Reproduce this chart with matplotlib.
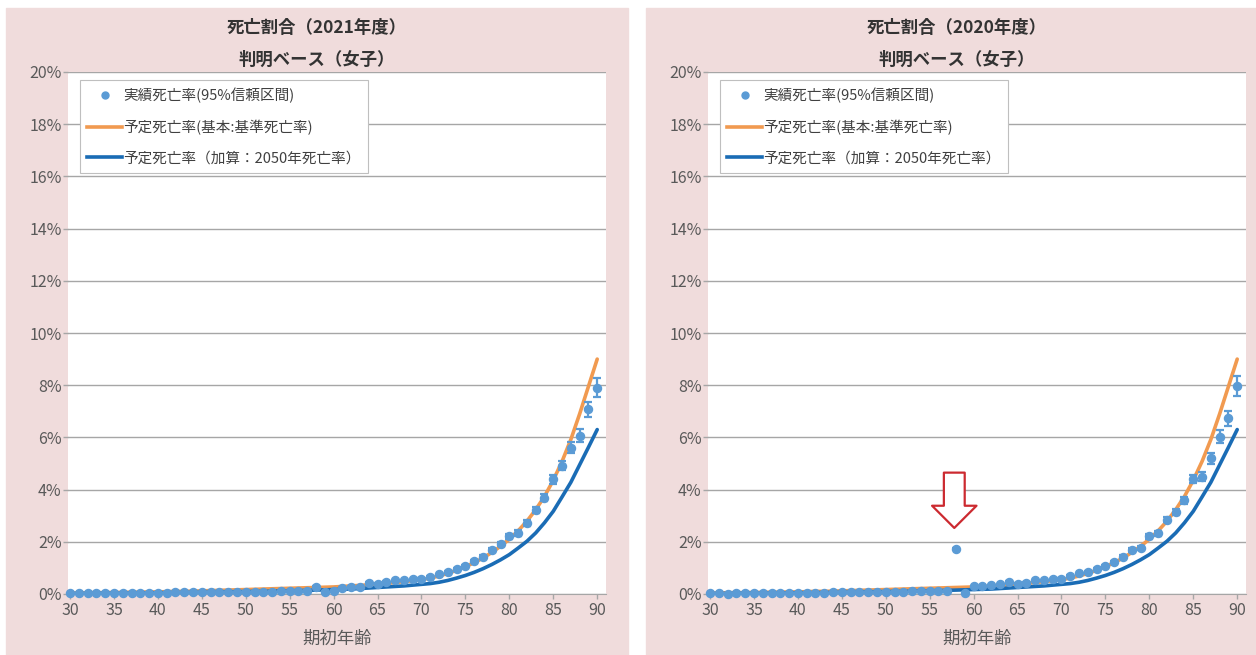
import matplotlib
matplotlib.use('Agg')
import matplotlib.pyplot as plt
from matplotlib.patches import Rectangle
from matplotlib.lines import Line2D


# ------------------- データ -------------------
ages = list(range(30, 91))
xticks = [30, 35, 40, 45, 50, 55, 60, 65, 70, 75, 80, 85, 90]
yticks = [0, 2, 4, 6, 8, 10, 12, 14, 16, 18, 20]

# 実績死亡率 (%) 2021年度
rate_2021 = [0.02, 0.02, 0.02, 0.03, 0.03, 0.03, 0.04, 0.04, 0.04, 0.05,
             0.05, 0.05, 0.06, 0.06, 0.06, 0.07, 0.07, 0.07, 0.08, 0.08,
             0.08, 0.09, 0.09, 0.09, 0.10, 0.10, 0.10, 0.12, 0.28, 0.09,
             0.13, 0.24, 0.27, 0.28, 0.44, 0.40, 0.46, 0.52, 0.53, 0.56,
             0.59, 0.66, 0.75, 0.86, 0.94, 1.09, 1.26, 1.42, 1.70, 1.90,
             2.21, 2.34, 2.73, 3.21, 3.69, 4.39, 4.92, 5.60, 6.07, 7.07,
             7.90]
err_2021 = [0.01] * 20 + [0.02] * 20 + \
           [0.03, 0.03, 0.03, 0.03, 0.04, 0.04, 0.05, 0.06, 0.07, 0.08,
            0.09, 0.10, 0.11, 0.12, 0.14, 0.16, 0.18, 0.21, 0.25, 0.29,
            0.36]

# 実績死亡率 (%) 2020年度
rate_2020 = [0.02, 0.02, 0.01, 0.02, 0.03, 0.02, 0.03, 0.03, 0.04, 0.04,
             0.04, 0.05, 0.05, 0.05, 0.06, 0.06, 0.07, 0.07, 0.07, 0.08,
             0.08, 0.09, 0.09, 0.10, 0.10, 0.10, 0.11, 0.12, 1.74, 0.05,
             0.30, 0.29, 0.33, 0.37, 0.46, 0.40, 0.43, 0.53, 0.53, 0.56,
             0.59, 0.68, 0.79, 0.85, 0.97, 1.07, 1.23, 1.43, 1.68, 1.77,
             2.21, 2.32, 2.85, 3.13, 3.59, 4.41, 4.50, 5.20, 6.03, 6.73,
             7.96]
err_2020 = [0.01] * 20 + [0.02] * 20 + \
           [0.03, 0.03, 0.03, 0.03, 0.04, 0.04, 0.05, 0.06, 0.07, 0.08,
            0.09, 0.10, 0.11, 0.12, 0.14, 0.16, 0.18, 0.21, 0.25, 0.30,
            0.38]

# 予定死亡率(基本:基準死亡率) (%)
base_rate = [0.04, 0.04, 0.05, 0.05, 0.05, 0.06, 0.06, 0.07, 0.07, 0.08,
             0.08, 0.09, 0.10, 0.10, 0.11, 0.12, 0.13, 0.14, 0.15, 0.16,
             0.17, 0.18, 0.19, 0.20, 0.21, 0.22, 0.23, 0.24, 0.25, 0.26,
             0.27, 0.29, 0.31, 0.33, 0.35, 0.38, 0.41, 0.44, 0.47, 0.51,
             0.55, 0.61, 0.69, 0.79, 0.91, 1.05, 1.20, 1.38, 1.59, 1.83,
             2.10, 2.42, 2.79, 3.23, 3.74, 4.36, 5.08, 5.92, 6.90, 7.95,
             9.00]

# 予定死亡率（加算：2050年死亡率） (%)
rate_2050 = [0.02, 0.02, 0.02, 0.03, 0.03, 0.03, 0.03, 0.04, 0.04, 0.04,
             0.05, 0.05, 0.05, 0.06, 0.06, 0.07, 0.07, 0.08, 0.08, 0.09,
             0.09, 0.10, 0.10, 0.11, 0.12, 0.12, 0.13, 0.14, 0.15, 0.16,
             0.17, 0.18, 0.19, 0.21, 0.23, 0.25, 0.27, 0.29, 0.31, 0.34,
             0.37, 0.40, 0.45, 0.52, 0.61, 0.71, 0.83, 0.97, 1.13, 1.31,
             1.51, 1.76, 2.02, 2.34, 2.73, 3.17, 3.72, 4.28, 4.95, 5.62,
             6.30]

titles = ['死亡割合（2021年度）', '死亡割合（2020年度）']
subtitle = '判明ベース（女子）'
legend_labels = ['実績死亡率(95%信頼区間)',
                 '予定死亡率(基本:基準死亡率)',
                 '予定死亡率（加算：2050年死亡率）']

W, H = 1256, 655
C_DOT = '#5B9BD5'
C_BASE = '#F19A50'
C_2050 = '#1A6CB5'
C_GRID = '#A6A6A6'
C_TEXT = '#595959'
C_BG = '#F0DCDC'


def fx(px):
    return px / W


def fy(py):
    return 1 - py / H


def draw_panel(fig, left_px, title, rate, err, arrow=False):
    """パネル1枚を描画"""
    # ピンクの背景（軸より下に置く）
    fig.patches.append(Rectangle((fx(left_px - 62), 0), fx(622), fy(8),
                                 transform=fig.transFigure, color=C_BG,
                                 zorder=-1))
    cx = fx(left_px - 62 + 311)
    fig.text(cx, fy(28), title, ha='center', va='center', fontsize=12.5,
             fontweight='bold', color='#333333')
    fig.text(cx, fy(60), subtitle, ha='center', va='center', fontsize=12.5,
             fontweight='bold', color='#333333')

    ax = fig.add_axes([fx(left_px), fy(594), fx(538), (594 - 72) / H])
    ax.set_facecolor('white')
    ax.set_xlim(29.77, 91.0)
    ax.set_ylim(0, 20)
    ax.set_xticks(xticks)
    ax.set_yticks(yticks)
    ax.set_yticklabels([f'{t}%' for t in yticks])
    ax.yaxis.grid(True, color=C_GRID, lw=1)
    ax.set_axisbelow(True)
    for s in ['top', 'right', 'left']:
        ax.spines[s].set_visible(False)
    ax.spines['bottom'].set_color(C_GRID)
    ax.tick_params(axis='both', colors=C_GRID, labelcolor=C_TEXT,
                   labelsize=11.5, length=3.5, width=1)
    ax.tick_params(axis='y', pad=1)
    ax.tick_params(axis='x', pad=2)
    ax.set_xlabel('期初年齢', fontsize=12.5, color=C_TEXT, labelpad=8)

    ax.plot(ages, base_rate, color=C_BASE, lw=2.6, zorder=3,
            solid_capstyle='round')
    ax.plot(ages, rate_2050, color=C_2050, lw=2.6, zorder=4,
            solid_capstyle='round')
    ax.errorbar(ages, rate, yerr=err, fmt='none', ecolor=C_DOT, elinewidth=1.6,
                capsize=3, capthick=1.6, zorder=5)
    ax.plot(ages, rate, ls='none', marker='o', ms=5.8, color=C_DOT,
            zorder=6, clip_on=False)

    handles = [Line2D([], [], ls='none', marker='o', ms=5, color=C_DOT),
               Line2D([], [], color=C_BASE, lw=2.6),
               Line2D([], [], color=C_2050, lw=2.6)]
    leg = ax.legend(handles, legend_labels, loc='upper left',
                    bbox_to_anchor=(fx(left_px + 12), fy(80)),
                    bbox_transform=fig.transFigure, borderaxespad=0,
                    fontsize=10.5, handlelength=2.4, handletextpad=0.05,
                    labelspacing=1.15, borderpad=0.5, numpoints=1,
                    fancybox=False, framealpha=1, edgecolor='#BFBFBF')
    leg.get_frame().set_linewidth(0.8)
    for t in leg.get_texts():
        t.set_color('#404040')

    if arrow:
        # 外れ値を指す白抜き矢印
        ax.annotate('', xy=(57.8, 2.53), xytext=(57.8, 4.65),
                    arrowprops=dict(arrowstyle='simple,head_length=16,'
                                               'head_width=32,tail_width=15',
                                    mutation_scale=1, shrinkA=0, shrinkB=0,
                                    fc='white', ec='#CC2A30', lw=1.6),
                    zorder=7)
    return ax


def main():
    plt.rcParams['font.family'] = ['Noto Sans CJK JP', 'DejaVu Sans']
    plt.rcParams['axes.unicode_minus'] = False

    fig = plt.figure(figsize=(W / 100, H / 100), dpi=100)
    draw_panel(fig, 68, titles[0], rate_2021, err_2021)
    draw_panel(fig, 708, titles[1], rate_2020, err_2020, arrow=True)
    fig.savefig('out.png', dpi=100)


if __name__ == '__main__':
    main()
